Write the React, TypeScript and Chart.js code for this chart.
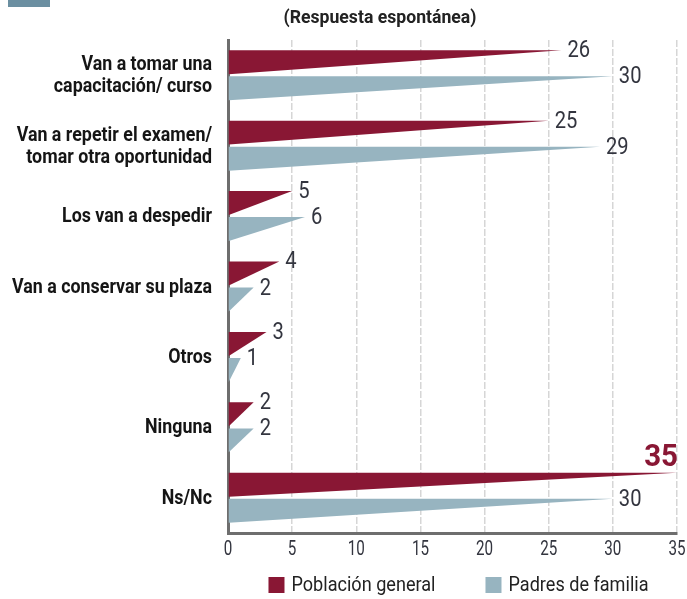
import React, { useEffect, useRef } from "react";
import { Chart, registerables } from "chart.js";

Chart.register(...registerables);

const categories: (string | string[])[] = [
  ["Van a tomar una", "capacitación/ curso"],
  ["Van a repetir el examen/", "tomar otra oportunidad"],
  "Los van a despedir",
  "Van a conservar su plaza",
  "Otros",
  "Ninguna",
  "Ns/Nc",
];
const poblacionGeneral = [26, 25, 5, 4, 3, 2, 35];
const padresFamilia = [30, 29, 6, 2, 1, 2, 30];
const seriesNames = ["Población general", "Padres de familia"];
const xMin = 0;
const xMax = 35;
const xStep = 5;
const subtitle = "(Respuesta espontánea)";

const RED = "#891734";
const BLUE = "#97b4c0";
const FONT = "Roboto, 'Liberation Sans', sans-serif";

function condText(ctx: any, text: string, x: number, y: number, sx: number, align: string, baseline: string) {
  ctx.save();
  ctx.translate(x, y);
  ctx.scale(sx, 1);
  ctx.textAlign = align;
  ctx.textBaseline = baseline;
  ctx.fillText(text, 0, 0);
  ctx.restore();
}

const wedgePlugin = {
  id: "wedges",
  beforeDatasetDraw(chart: any, args: any) {
    const { ctx } = chart;
    const ds = chart.data.datasets[args.index];
    ctx.save();
    ctx.fillStyle = ds.backgroundColor;
    args.meta.data.forEach((el: any) => {
      const { x, y, base, height } = el.getProps(["x", "y", "base", "height"], true);
      const top = y - height / 2;
      ctx.beginPath();
      ctx.moveTo(base, top);
      ctx.lineTo(x, top);
      ctx.lineTo(base, top + height);
      ctx.closePath();
      ctx.fill();
    });
    ctx.restore();
    return false;
  },
  afterDatasetsDraw(chart: any) {
    const { ctx } = chart;
    const allVals = chart.data.datasets.flatMap((d: any) => d.data as number[]);
    const maxVal = Math.max(...allVals);
    chart.data.datasets.forEach((ds: any, di: number) => {
      const meta = chart.getDatasetMeta(di);
      meta.data.forEach((el: any, i: number) => {
        const v = ds.data[i];
        const { x, y, height } = el.getProps(["x", "y", "height"], true);
        const top = y - height / 2;
        if (v === maxVal && di === 0) {
          ctx.font = `bold 32px ${FONT}`;
          ctx.fillStyle = RED;
          condText(ctx, String(v), x + 1, top - 7, 0.92, "right", "alphabetic");
        } else {
          ctx.font = `24px ${FONT}`;
          ctx.fillStyle = "#33353f";
          condText(ctx, String(v), x + 6, top + 1, 0.84, "left", "middle");
        }
      });
    });
  },
  afterDraw(chart: any) {
    const { ctx, chartArea } = chart;
    ctx.save();
    // top-left header swatch
    ctx.fillStyle = "#6b8fa1";
    ctx.fillRect(8, 0, 42, 7);

    // subtitle
    ctx.font = `bold 19px ${FONT}`;
    ctx.fillStyle = "#222";
    const sxTitle = 193 / ctx.measureText(subtitle).width;
    condText(ctx, subtitle, 380, 18, sxTitle, "center", "middle");

    // category labels (y axis)
    const yScale = chart.scales.y;
    ctx.font = `bold 20px ${FONT}`;
    ctx.fillStyle = "#151515";
    const sxCat = 200 / ctx.measureText("Van a conservar su plaza").width;
    const labelRight = chartArea.left - 16;
    chart.data.labels.forEach((lab: any, i: number) => {
      const lines = Array.isArray(lab) ? lab : [lab];
      const cy = yScale.getPixelForTick(i);
      const lh = 22;
      lines.forEach((ln: string, k: number) => {
        const ly = cy + (k - (lines.length - 1) / 2) * lh;
        condText(ctx, ln, labelRight, ly + 1, sxCat, "right", "middle");
      });
    });

    // x ticks
    const xScale = chart.scales.x;
    ctx.font = `20px ${FONT}`;
    ctx.fillStyle = "#33353f";
    xScale.ticks.forEach((t: any) => {
      const px = xScale.getPixelForValue(t.value);
      condText(ctx, String(t.value), px, chartArea.bottom + 17, 0.76, "center", "middle");
    });

    // legend
    ctx.font = `20px ${FONT}`;
    const sxLeg = 144 / ctx.measureText(seriesNames[0]).width;
    const box = 16;
    const gapBoxText = 7;
    const gapItems = 50;
    const items = chart.data.datasets.map((d: any) => ({
      label: d.label,
      color: d.backgroundColor,
      w: box + gapBoxText + ctx.measureText(d.label).width * sxLeg,
    }));
    const total = items.reduce((s: number, it: any) => s + it.w, 0) + gapItems * (items.length - 1);
    const cx = (chartArea.left + chartArea.right) / 2 + 6;
    let lx = cx - total / 2;
    const ly = 585;
    items.forEach((it: any) => {
      ctx.fillStyle = it.color;
      ctx.fillRect(lx, ly - box / 2, box, box);
      ctx.fillStyle = "#222";
      condText(ctx, it.label, lx + box + gapBoxText, ly + 1, sxLeg, "left", "middle");
      lx += it.w + gapItems;
    });
    ctx.restore();
  },
};

export default function App() {
  const ref = useRef<HTMLCanvasElement>(null);
  useEffect(() => {
    document.body.style.margin = "0";
    const canvas = ref.current!;
    const chart = new Chart(canvas, {
      type: "bar",
      data: {
        labels: categories,
        datasets: [
          { label: seriesNames[0], data: poblacionGeneral, backgroundColor: RED },
          { label: seriesNames[1], data: padresFamilia, backgroundColor: BLUE },
        ],
      },
      options: {
        indexAxis: "y",
        responsive: false,
        animation: false,
        devicePixelRatio: 1,
        datasets: { bar: { categoryPercentage: 0.74, barPercentage: 0.92 } },
        layout: { padding: { top: 40, right: 10, bottom: 30, left: 0 } },
        plugins: { legend: { display: false }, tooltip: { enabled: false }, title: { display: false } },
        scales: {
          x: {
            min: xMin,
            max: xMax,
            ticks: { stepSize: xStep, display: false },
            grid: {
              color: (c: any) => (c.index === 0 ? "rgba(0,0,0,0)" : "#d6d6d6"),
              lineWidth: 1.5,
              drawTicks: false,
              tickLength: 0,
            },
            border: { display: true, color: "#6e6e6e", width: 3, dash: [7, 2] },
            afterFit: (s: any) => { s.height = 36; },
          },
          y: {
            ticks: { display: false },
            grid: { display: false, drawTicks: false, tickLength: 0 },
            border: { display: true, color: "#6e6e6e", width: 3 },
            afterFit: (s: any) => { s.width = 228; },
          },
        },
      },
      plugins: [wedgePlugin],
    });
    return () => chart.destroy();
  }, []);
  return <canvas ref={ref} width={687} height={599} style={{ display: "block" }} />;
}
